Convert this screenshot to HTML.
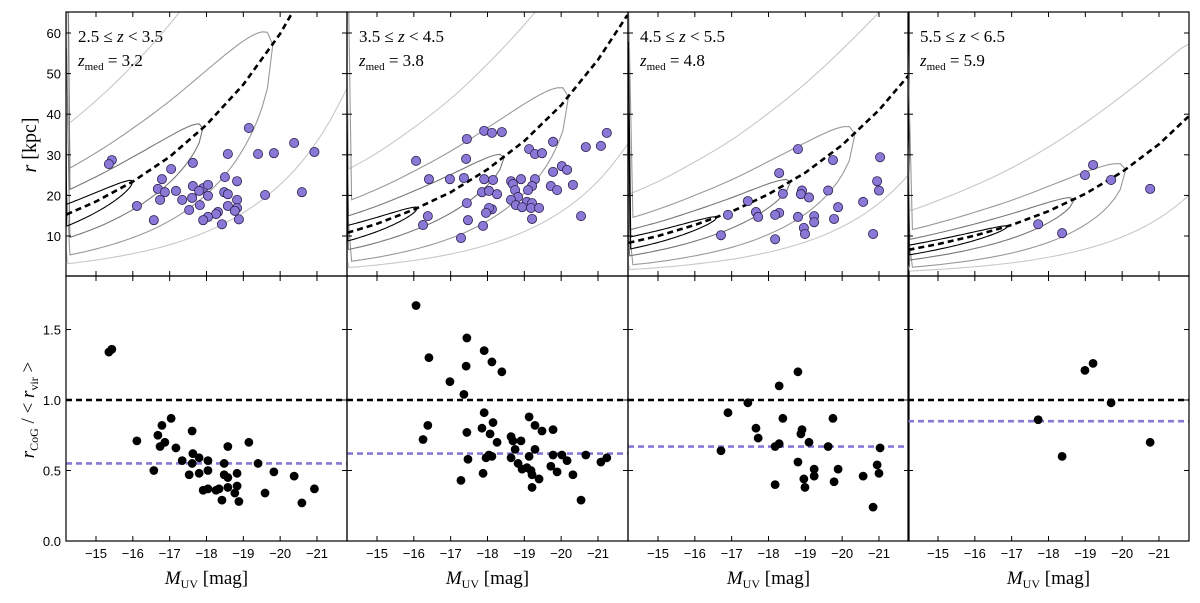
<!DOCTYPE html>
<html><head><meta charset="utf-8">
<style>
html,body{margin:0;padding:0;background:#fff;}
svg{display:block;font-family:"Liberation Serif",serif;}
.tick{font-family:"Liberation Sans",sans-serif;font-size:13px;fill:#000;}
</style></head>
<body>
<svg id="chart" width="1200" height="603" viewBox="0 0 1200 603" xmlns="http://www.w3.org/2000/svg"></svg>
<script>
// ---------- data ----------
const panelLabels = ["2.5 \u2264 z < 3.5","3.5 \u2264 z < 4.5","4.5 \u2264 z < 5.5","5.5 \u2264 z < 6.5"];
const zmed = ["3.2","3.8","4.8","5.9"];
const xTicks = [-15,-16,-17,-18,-19,-20,-21];
const rTicks = [10,20,30,40,50,60];
const ratioTicks = [0.0,0.5,1.0,1.5];
const ratioTickLabels = ["0.0","0.5","1.0","1.5"];

const p1M = [-19.15,-20.38,-20.93,-19.83,-19.40,-18.58,-15.43,-15.35,-17.63,-17.04,-18.50,-18.83,-16.79,-16.68,-16.87,-17.17,-17.63,-17.91,-18.04,-17.80,-18.48,-18.58,-20.59,-19.59,-18.04,-17.61,-17.34,-16.74,-18.83,-16.11,-17.82,-18.58,-18.83,-17.53,-18.31,-18.26,-18.77,-18.04,-17.91,-16.57,-18.88,-18.42];
const p1R = [36.6,32.9,30.7,30.4,30.2,30.2,28.7,27.7,28.0,26.5,24.5,23.5,24.0,21.6,20.8,21.1,22.3,21.8,22.6,21.1,20.8,20.3,20.8,20.1,19.9,19.4,18.9,18.9,18.9,17.4,17.6,17.4,16.9,16.4,15.9,15.4,16.2,14.7,13.9,13.9,14.1,12.9];
const p1bM = [-15.35,-15.43,-17.04,-16.79,-17.61,-16.11,-16.68,-16.87,-16.74,-17.17,-18.58,-19.15,-17.63,-17.80,-18.04,-17.34,-17.61,-18.48,-19.40,-16.57,-18.04,-17.53,-17.80,-18.48,-18.58,-18.83,-19.83,-20.38,-18.83,-18.58,-17.91,-18.04,-18.26,-18.34,-18.77,-19.59,-20.93,-18.42,-18.88,-20.59];
const p1bV = [1.34,1.36,0.87,0.82,0.78,0.71,0.75,0.70,0.67,0.66,0.67,0.70,0.62,0.59,0.57,0.57,0.55,0.55,0.55,0.50,0.50,0.47,0.48,0.47,0.45,0.48,0.49,0.46,0.39,0.38,0.36,0.37,0.36,0.37,0.34,0.34,0.37,0.29,0.28,0.27];

const p2M = [-16.06,-17.44,-17.91,-18.12,-18.39,-19.78,-21.24,-20.67,-21.08,-19.13,-19.29,-19.48,-17.42,-20.02,-20.16,-19.78,-16.41,-16.98,-17.36,-17.91,-18.15,-18.64,-18.91,-19.29,-18.69,-19.21,-19.72,-20.32,-19.89,-19.10,-18.75,-17.85,-18.04,-18.26,-18.83,-18.64,-19.07,-19.21,-18.77,-18.94,-19.18,-19.40,-17.44,-18.12,-18.04,-17.96,-16.38,-20.54,-19.21,-17.47,-16.25,-17.88,-17.28];
const p2R = [28.5,33.9,35.9,35.4,35.6,33.2,35.4,31.9,32.2,31.4,30.2,30.4,29.0,27.2,26.3,25.8,24.0,24.0,24.3,24.0,23.8,23.5,24.0,24.0,22.8,22.3,22.3,22.6,21.3,21.3,21.3,20.8,21.1,20.3,19.6,18.9,18.4,18.1,17.6,17.1,16.9,16.9,18.1,16.6,16.9,15.7,14.9,14.9,14.2,13.9,12.7,12.5,9.5];
const p2bM = [-16.06,-17.44,-16.41,-17.91,-18.12,-17.42,-18.39,-16.98,-17.36,-17.91,-18.15,-16.38,-19.13,-19.29,-19.78,-19.48,-17.85,-18.07,-17.44,-16.25,-18.26,-18.64,-18.91,-18.69,-18.75,-19.29,-19.13,-19.78,-20.02,-20.67,-21.24,-21.08,-20.16,-18.04,-17.96,-18.12,-17.47,-18.64,-18.83,-19.07,-18.94,-19.18,-19.21,-19.40,-19.72,-19.89,-20.32,-17.88,-17.28,-19.21,-20.54];
const p2bV = [1.67,1.44,1.30,1.35,1.27,1.24,1.20,1.13,1.04,0.91,0.84,0.82,0.88,0.82,0.79,0.78,0.80,0.76,0.77,0.72,0.70,0.74,0.71,0.71,0.65,0.65,0.60,0.61,0.61,0.61,0.59,0.56,0.57,0.61,0.59,0.60,0.58,0.59,0.55,0.52,0.51,0.50,0.47,0.44,0.53,0.49,0.47,0.48,0.43,0.38,0.29];

const p3M = [-18.80,-19.75,-21.03,-18.29,-20.95,-21.00,-18.39,-18.91,-18.88,-19.10,-19.62,-17.44,-20.57,-16.90,-17.66,-17.72,-18.29,-18.18,-18.80,-19.89,-19.24,-19.24,-19.78,-18.96,-18.99,-16.71,-18.18,-20.84];
const p3R = [31.4,28.7,29.4,25.5,23.5,21.2,20.4,21.2,20.3,19.5,21.2,18.6,18.4,15.2,15.9,14.7,15.7,15.2,14.7,17.1,14.9,13.4,14.2,12.0,10.5,10.2,9.2,10.5];
const p3bM = [-18.80,-18.29,-17.44,-16.90,-18.39,-19.75,-17.66,-18.91,-18.88,-17.72,-19.10,-18.29,-18.18,-19.62,-21.03,-16.71,-18.80,-20.95,-19.24,-19.89,-21.00,-19.24,-20.57,-18.96,-19.78,-18.18,-18.99,-20.84];
const p3bV = [1.20,1.10,0.98,0.91,0.87,0.87,0.80,0.79,0.76,0.73,0.70,0.69,0.67,0.67,0.66,0.64,0.56,0.54,0.51,0.51,0.48,0.46,0.46,0.44,0.42,0.40,0.38,0.24];

const p4M = [-19.21,-18.99,-19.70,-20.76,-17.72,-18.37];
const p4R = [27.5,25.0,23.8,21.6,12.9,10.7];
const p4bM = [-18.99,-19.21,-19.70,-20.76,-17.72,-18.37];
const p4bV = [1.21,1.26,0.98,0.70,0.86,0.60];

const medianRatio = [0.55,0.62,0.67,0.85];

// virial radius model curves
const curveM = [-14.2,-15,-16,-17,-18,-19,-20,-21,-21.8];
const curveR1 = [15.3,18.5,23.4,29.5,37.4,47.3,59.8,75.6,91.3];
const curveR2 = [10.8,13.0,16.5,20.8,26.4,33.4,42.2,53.4,64.4];
const curveR3 = [8.3,10.0,12.7,16.0,20.3,25.6,32.4,41.0,49.5];
const curveR4 = [6.6,8.0,10.1,12.7,16.1,20.4,25.8,32.6,39.4];
// contour tip magnitudes per panel (black, dark grey, grey, light grey)
const tips1 = [-16.0,-17.9,-19.8,-23.5];
const tips2 = [-16.1,-18.45,-20.2,-23.5];
const tips3 = [-16.6,-18.6,-20.35,-23.5];
const tips4 = [-16.9,-18.7,-20.1,-23.5];

// ---------- layout ----------
const NS="http://www.w3.org/2000/svg";
const svg=document.getElementById('chart');
const X0=[66,347,628,908], PW=281;
const TOP0=12, TOP1=276, BOT1=541;
function xs(p,M){return X0[p]+30+(-M-15)*36.83;}
function yr(r){return 276.6-4.06*r;}
function yv(v){return 541-141*v;}
function mk(tag,attrs,parent){const e=document.createElementNS(NS,tag);for(const k in attrs)e.setAttribute(k,attrs[k]);(parent||svg).appendChild(e);return e;}

const defs=mk('defs',{});
for(let p=0;p<4;p++){
  const c=mk('clipPath',{id:'ct'+p},defs);mk('rect',{x:X0[p],y:TOP0,width:PW,height:TOP1-TOP0},c);
  const c2=mk('clipPath',{id:'cb'+p},defs);mk('rect',{x:X0[p],y:TOP1,width:PW,height:BOT1-TOP1},c2);
}

const panelsTop=[[p1M,p1R],[p2M,p2R],[p3M,p3R],[p4M,p4R]];
const panelsBot=[[p1bM,p1bV],[p2bM,p2bV],[p3bM,p3bV],[p4bM,p4bV]];
const curves=[curveR1,curveR2,curveR3,curveR4];
const tips=[tips1,tips2,tips3,tips4];
const contourUp=[0.16,0.33,0.55,0.9], contourDn=[0.22,0.5,1.1,1.6];
const contourCol=['#000','#777','#999','#c8c8c8'];

function curveAt(p,M){ // piecewise log-linear along curve arrays
  const c=curves[p];
  for(let i=0;i<curveM.length-1;i++){
    if(M<=curveM[i]&&M>=curveM[i+1]){const t=(curveM[i]-M)/(curveM[i]-curveM[i+1]);return Math.exp(Math.log(c[i])*(1-t)+Math.log(c[i+1])*t);}
  }
  return c[c.length-1];
}

for(let p=0;p<4;p++){
  const gT=mk('g',{'clip-path':'url(#ct'+p+')'});
  
  
  // contours (outer first)
  for(let k=3;k>=0;k--){
    const tip=tips[p][k], up=[], dn=[];
    const n=40;
    for(let i=0;i<=n;i++){
      const M=-14.0+(tip+14.0)*i/n;
      const f=Math.sqrt(Math.max(0,(M-tip)/(-14.0-tip)));
      const rc=curveAt(p,Math.max(M,-21.8));
      up.push(xs(p,M).toFixed(1)+','+yr(rc*Math.exp(contourUp[k]*f)).toFixed(1));
      dn.push(xs(p,M).toFixed(1)+','+yr(rc*Math.exp(-contourDn[k]*f)).toFixed(1));
    }
    const cp=mk('polygon',{points:up.concat(dn.reverse()).join(' '),fill:'none',stroke:contourCol[k],'stroke-width':1.1},gT);
    
    
  }
  // virial curve
  const pts=curveM.map((M,i)=>xs(p,M).toFixed(1)+','+yr(curves[p][i]).toFixed(1)).join(' ');
  const vc=mk('polyline',{points:pts,fill:'none',stroke:'#000','stroke-width':2.6,'stroke-dasharray':'6,4'},gT);
  
  
  // points
  const [Ms,Rs]=panelsTop[p];
  for(let i=0;i<Ms.length;i++){
    const c=mk('circle',{cx:xs(p,Ms[i]),cy:yr(Rs[i]),r:4.6,fill:'#8b78d6',stroke:'#2a2250','stroke-width':0.8},gT);
    
    
  }
  // bottom panel
  const gB=mk('g',{'clip-path':'url(#cb'+p+')'});
  
  
  const l1=mk('line',{x1:X0[p],x2:X0[p]+PW,y1:yv(1.0),y2:yv(1.0),stroke:'#000','stroke-width':2.6,'stroke-dasharray':'6,4'},gB);
  
  
  const l2=mk('line',{x1:X0[p],x2:X0[p]+PW,y1:yv(medianRatio[p]),y2:yv(medianRatio[p]),stroke:'#8b78d6','stroke-width':2.6,'stroke-dasharray':'6,4'},gB);
  
  
  const [bM,bV]=panelsBot[p];
  for(let i=0;i<bM.length;i++){
    const c=mk('circle',{cx:xs(p,bM[i]),cy:yv(bV[i]),r:4.4,fill:'#000'},gB);
    
    
  }
  // frames
  for(const [y0,y1] of [[TOP0,TOP1],[TOP1,BOT1]]){
    const fr=mk('rect',{x:X0[p],y:y0,width:PW,height:y1-y0,fill:'none',stroke:'#000','stroke-width':1.2});
    
    
  }
  // x ticks
  for(const t of xTicks){
    const x=xs(p,t);
    for(const [a,b] of [[TOP0,TOP0+5],[TOP1-5,TOP1],[TOP1,TOP1+5],[BOT1-5,BOT1]]){
      mk('line',{x1:x,x2:x,y1:a,y2:b,stroke:'#000','stroke-width':1});
    }
    const tl=mk('text',{x:x,y:BOT1+17,'text-anchor':'middle',class:'tick'});
    tl.textContent='\u2212'+Math.abs(t);
    
    
  }
  // y ticks
  for(const r of rTicks){const y=yr(r);
    mk('line',{x1:X0[p],x2:X0[p]+5,y1:y,y2:y,stroke:'#000'});mk('line',{x1:X0[p]+PW-5,x2:X0[p]+PW,y1:y,y2:y,stroke:'#000'});}
  for(const v of ratioTicks){const y=yv(v);
    mk('line',{x1:X0[p],x2:X0[p]+5,y1:y,y2:y,stroke:'#000'});mk('line',{x1:X0[p]+PW-5,x2:X0[p]+PW,y1:y,y2:y,stroke:'#000'});}
  // annotations
  const an=mk('text',{x:X0[p]+12,y:42,'font-size':17});
  an.innerHTML=panelLabels[p].replace(/z/g,'<tspan font-style="italic">z</tspan>');
  
  
  const zm=mk('text',{x:X0[p]+12,y:66,'font-size':17});
  zm.innerHTML='<tspan font-style="italic">z</tspan><tspan font-size="11" dy="4">med</tspan><tspan dy="-4"> = '+zmed[p]+'</tspan>';
  
  
  // x axis title
  const xt=mk('text',{x:X0[p]+PW/2,y:584,'text-anchor':'middle','font-size':19});
  xt.innerHTML='<tspan font-style="italic">M</tspan><tspan font-size="12" dy="4">UV</tspan><tspan dy="-4"> [mag]</tspan>';
  
  
}
// y tick labels (leftmost only)
for(const r of rTicks){const t=mk('text',{x:61,y:yr(r)+5,'text-anchor':'end',class:'tick'});t.textContent=r;
  
  }
ratioTicks.forEach((v,i)=>{const t=mk('text',{x:61,y:yv(v)+5,'text-anchor':'end',class:'tick'});t.textContent=ratioTickLabels[i];
  
  });
const yt=mk('text',{transform:'translate(36,145) rotate(-90)','text-anchor':'middle','font-size':20});
yt.innerHTML='<tspan font-style="italic">r</tspan> [kpc]';


const yb=mk('text',{transform:'translate(34,410) rotate(-90)','text-anchor':'middle','font-size':19});
yb.innerHTML='<tspan font-style="italic">r</tspan><tspan font-size="12" dy="4">CoG</tspan><tspan dy="-4"> / &lt; </tspan><tspan font-style="italic">r</tspan><tspan font-size="12" dy="4">vir</tspan><tspan dy="-4"> &gt;</tspan>';


</script>
</body></html>
